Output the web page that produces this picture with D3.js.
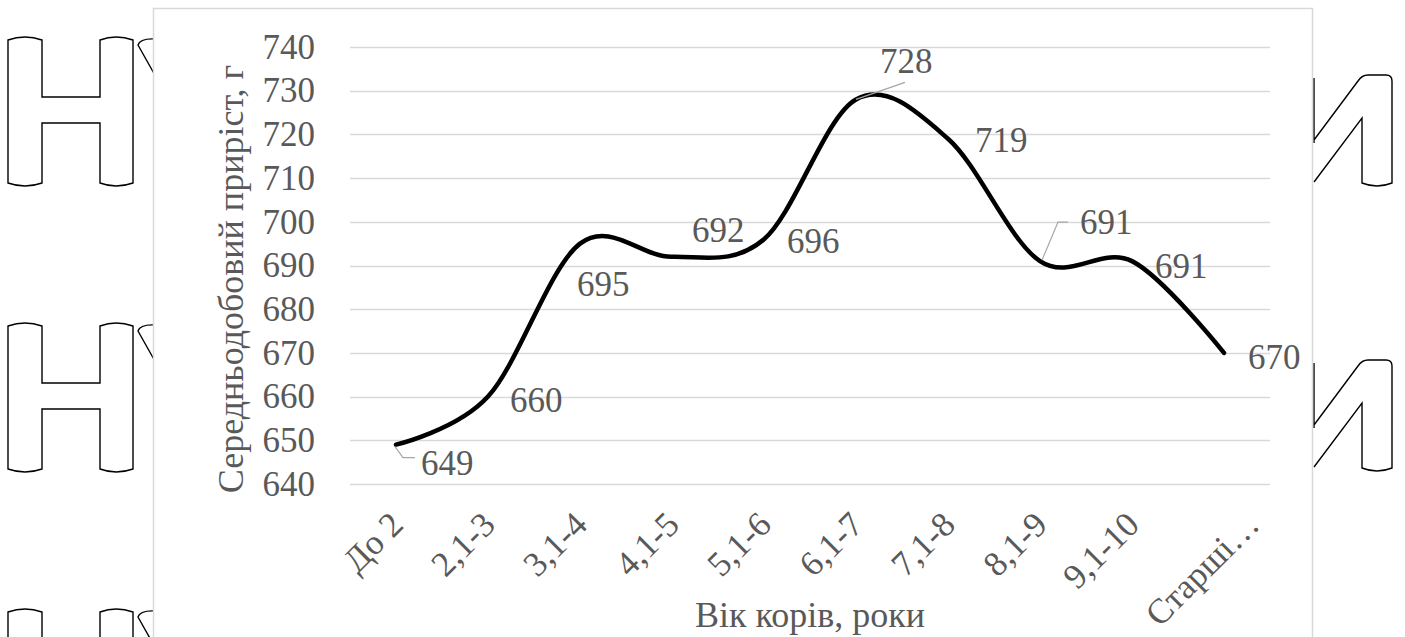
<!DOCTYPE html>
<html>
<head>
<meta charset="utf-8">
<script src="https://cdn.jsdelivr.net/npm/d3@7"></script>
<style>
    body { margin: 0; background: #fff; }
    svg { display: block; font-family: "Liberation Serif", "Times New Roman", serif; }
</style>
</head>
<body>
<div id="canvas"></div>
<script>
// chart data
var categories = ["До 2", "2,1-3", "3,1-4", "4,1-5", "5,1-6", "6,1-7", "7,1-8", "8,1-9", "9,1-10", "Старші…"];
var values = [649, 660, 695, 692, 696, 728, 719, 691, 691, 670];
var yTicks = [640, 650, 660, 670, 680, 690, 700, 710, 720, 730, 740];
var yTitle = "Середньодобовий приріст, г";
var xTitle = "Вік корів, роки";

// where each data label sits next to its point (dx, dy in px)
var labelOffsets = [[25, 18], [22, 3], [-3, 40], [20, -27], [23, 1], [24, -39], [27, 1], [40, -39], [23, 5], [24, 4]];
// leader lines for the labels that got moved away
var leaders = {0: [[-1, 2], [7, 13], [19, 13]], 5: [[0, 0], [49, -17]], 7: [[2, -1], [18, -39], [28, -39]]};

var W = 1405, H = 637;
var plot = {left: 350, right: 1270, top: 47, bottom: 484};
var textColor = "#595959";
var serif = "'Liberation Serif', 'Times New Roman', serif";

var svg = d3.select("#canvas").append("svg")
    .attr("width", W)
    .attr("height", H);

//watermark letters behind the chart box
var wm = svg.append("g").attr("fill", "none").attr("stroke", "#000").attr("stroke-width", 1.4);
[37, 323, 609].forEach(function (t) {
    wm.append("path").attr("d",
        "M8," + (t + 3) + " Q25," + (t - 3) + " 42," + (t + 3) +
        " L42," + (t + 60) + " L100," + (t + 60) + " L100," + (t + 3) +
        " Q116," + (t - 3) + " 133," + (t + 3) + " L133," + (t + 146) +
        " Q116," + (t + 152) + " 100," + (t + 146) + " L100," + (t + 86) +
        " L42," + (t + 86) + " L42," + (t + 146) +
        " Q25," + (t + 152) + " 8," + (t + 146) + " Z");
    wm.append("path").attr("d",
        "M156," + (t + 2) + " Q140," + (t + 1) + " 138," + (t + 8) + " L156," + (t + 40));
});
[75, 360].forEach(function (t) {
    wm.append("path").attr("d",
        "M1314," + (t + 3) + " L1314," + (t + 68) +
        " M1314," + (t + 65) + " L1358," + (t + 6) + " Q1362," + t + " 1368," + t +
        " L1386," + t + " Q1392," + t + " 1392," + (t + 6) + " L1392," + (t + 108) +
        " Q1377," + (t + 114) + " 1362," + (t + 108) + " L1362," + (t + 43) +
        " L1314," + (t + 107));
});

// chart box
svg.append("rect")
    .attr("x", 153.5).attr("y", 8.5)
    .attr("width", 1159).attr("height", 700)
    .attr("fill", "#fff")
    .attr("stroke", "#d9d9d9")
    .attr("stroke-width", 1.5);

var x = d3.scalePoint()
    .domain(categories)
    .range([plot.left, plot.right])
    .padding(0.5);

var y = d3.scaleLinear()
    .domain([640, 740])
    .range([plot.bottom, plot.top]);

//gridlines
svg.append("g").selectAll("line")
    .data(yTicks)
    .enter()
    .append("line")
    .attr("x1", plot.left).attr("x2", plot.right)
    .attr("y1", function (d) { return Math.round(y(d)) + 0.5; })
    .attr("y2", function (d) { return Math.round(y(d)) + 0.5; })
    .attr("stroke", "#d9d9d9")
    .attr("stroke-width", 1.5);

// y axis, labels only
var yAxis = svg.append("g")
    .attr("transform", "translate(" + plot.left + ",0)")
    .call(d3.axisLeft(y).tickValues(yTicks).tickSize(0).tickPadding(35));
yAxis.select(".domain").remove();
yAxis.attr("font-family", serif);
yAxis.selectAll("text")
    .attr("fill", textColor)
    .style("font-size", "35px");

// x axis labels, rotated
var xAxis = svg.append("g")
    .attr("transform", "translate(0," + plot.bottom + ")")
    .call(d3.axisBottom(x).tickSize(0).tickPadding(0));
xAxis.select(".domain").remove();
xAxis.attr("font-family", serif);
xAxis.selectAll("text")
    .attr("fill", textColor)
    .style("font-size", "35px")
    .attr("text-anchor", "end")
    .attr("y", 0)
    .attr("dy", "0.35em")
    .attr("transform", function (d, i) {
        // the cut label with the ellipsis sits further right in the original
        var shift = (i == categories.length - 1) ? 28 : 0;
        return "translate(" + shift + ",34) rotate(-45)";
    });

//axis titles
svg.append("text")
    .attr("transform", "translate(243,279) rotate(-90)")
    .attr("text-anchor", "middle")
    .attr("fill", textColor)
    .style("font-size", "36px")
    .text(yTitle);

svg.append("text")
    .attr("x", (plot.left + plot.right) / 2)
    .attr("y", 627)
    .attr("text-anchor", "middle")
    .attr("fill", textColor)
    .style("font-size", "36px")
    .text(xTitle);

// smoothed line
var pts = values.map(function (v, i) { return [x(categories[i]), y(v)]; });

svg.append("path")
    .datum(pts)
    .attr("fill", "none")
    .attr("stroke", "#000")
    .attr("stroke-width", 4.5)
    .attr("stroke-linecap", "round")
    .attr("stroke-linejoin", "round")
    .attr("d", d3.line().curve(d3.curveCardinal.tension(0)));

// leader lines
Object.keys(leaders).forEach(function (k) {
    var p = pts[+k];
    svg.append("polyline")
        .attr("points", leaders[k].map(function (o) { return (p[0] + o[0]) + "," + (p[1] + o[1]); }).join(" "))
        .attr("fill", "none")
        .attr("stroke", "#a6a6a6")
        .attr("stroke-width", 1.2);
});

// data labels
svg.append("g").selectAll("text")
    .data(values)
    .enter()
    .append("text")
    .attr("x", function (d, i) { return pts[i][0] + labelOffsets[i][0]; })
    .attr("y", function (d, i) { return pts[i][1] + labelOffsets[i][1]; })
    .attr("dy", "0.35em")
    .attr("fill", textColor)
    .style("font-size", "35px")
    .text(function (d) { return d; });
</script>
</body>
</html>
